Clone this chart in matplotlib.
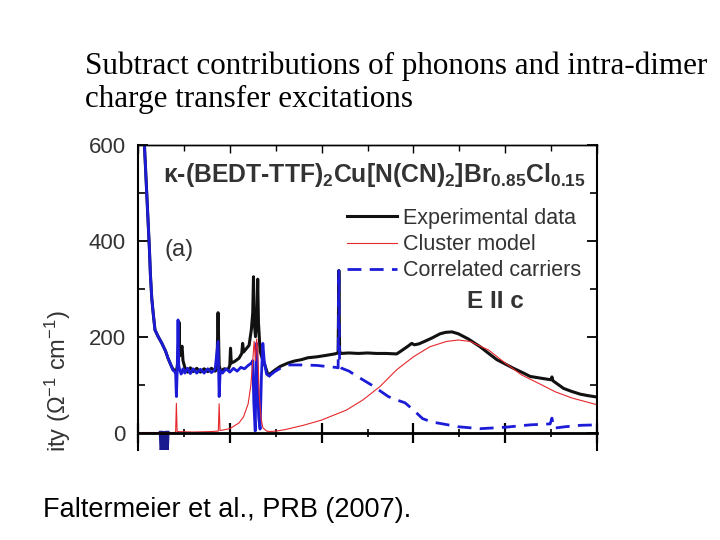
import numpy as np
import matplotlib
matplotlib.use("Agg")
import matplotlib.pyplot as plt
from matplotlib.ticker import MultipleLocator

plt.rcParams['font.family'] = ['Liberation Sans', 'DejaVu Sans']
plt.rcParams['mathtext.fontset'] = 'custom'
plt.rcParams['mathtext.rm'] = 'Liberation Sans'
plt.rcParams['mathtext.it'] = 'Liberation Sans:italic'
plt.rcParams['mathtext.bf'] = 'Liberation Sans:bold'

# experimental data (frequency in cm^-1, conductivity in 1/(Ohm cm))
exp_x = [40, 70, 90, 110, 125, 135, 150, 165, 185, 220, 258, 300, 327, 360, 381, 400,
         420, 436, 447, 455, 470, 480, 490, 510, 540, 570, 600, 640, 680, 720, 760, 800,
         840, 860, 872, 884, 900, 940, 980, 1000, 1008, 1016, 1050, 1100, 1130, 1140, 1150,
         1180, 1210, 1235, 1250, 1258, 1266, 1280, 1295, 1304, 1312, 1330, 1360, 1383, 1416,
         1450, 1489, 1550, 1634, 1700, 1779, 1850, 1950, 2050, 2143, 2180, 2188, 2196, 2210,
         2300, 2400, 2500, 2600, 2700, 2818, 2880, 2940, 2982, 3010, 3060, 3120, 3200, 3290,
         3350, 3420, 3490, 3600, 3727, 3800, 3909, 4000, 4090, 4200, 4272, 4400, 4500, 4509,
         4520, 4636, 4720, 4818, 4900, 5000]
exp_y = [900, 600, 520, 440, 380, 330, 280, 250, 214, 200, 187, 170, 155, 140, 132, 130,
         128, 150, 230, 160, 175, 180, 150, 136, 126, 135, 127, 134, 126, 133, 127, 134,
         128, 132, 250, 140, 128, 133, 131, 140, 176, 145, 148, 155, 165, 186, 168,
         175, 182, 215, 250, 325, 230, 200, 240, 320, 230, 170, 150, 140, 120,
         124, 130, 138, 145, 149, 152, 156, 158, 161, 164, 166, 338, 170, 165,
         166, 165, 166, 165, 165, 164, 172, 180, 186, 183, 185, 190, 197, 206,
         209, 210, 206, 195, 179, 168, 152, 143, 134, 124, 117, 113, 110, 116,
         108, 92, 86, 80, 77, 74]

# cluster model
clu_x = [0, 400, 410, 418, 426, 600, 800, 875, 884, 893, 1000, 1100, 1150, 1200, 1230,
         1250, 1265, 1280, 1292, 1305, 1320, 1340, 1360, 1400, 1440, 1509, 1600, 1800,
         2000, 2272, 2450, 2636, 2818, 3000, 3180, 3360, 3490, 3620, 3820, 4000, 4180,
         4360, 4545, 4727, 5000]
clu_y = [0, 0, 2, 61, 2, 1, 2, 3, 60, 4, 8, 20, 33, 60, 100,
         150, 190, 150, 195, 170, 80, 30, 10, 3, 2, 3, 6, 15,
         26, 47, 68, 96, 131, 158, 179, 190, 193, 190, 172, 145, 120,
         103, 85, 72, 58]

# correlated carriers
cor_x = [70, 90, 110, 125, 135, 150, 165, 185, 220, 258, 300, 327, 360, 381, 400, 410,
         418, 426, 436, 444, 455, 470, 490, 510, 540, 570, 600, 640, 680, 720, 760, 800,
         840, 872, 884, 896, 920, 960, 1000, 1040, 1080, 1120, 1160, 1200, 1235, 1250,
         1262, 1277, 1290, 1300, 1315, 1330, 1345, 1360, 1375, 1400, 1430, 1489, 1550,
         1634, 1779, 1950, 2090, 2150, 2180, 2188, 2196, 2220, 2300, 2363, 2450, 2545,
         2636, 2727, 2818, 2909, 3000, 3100, 3200, 3290, 3490, 3727, 4000, 4272, 4490,
         4509, 4530, 4650, 4818, 5000]
cor_y = [600, 520, 440, 380, 330, 280, 250, 214, 200, 187, 170, 155, 140, 130, 127, 122,
         75, 120, 235, 140, 130, 122, 133, 124, 134, 123, 133, 124, 132, 124, 133, 125,
         132, 190, 75, 130, 124, 133, 126, 134, 128, 136, 133, 140, 145, 150,
         60, 3, 186, 120, 30, 7, 120, 186, 150, 122, 118, 127, 134,
         141, 141, 140, 137, 136, 135, 338, 140, 134, 128, 120, 110, 99,
         87, 75, 68, 62, 47, 29, 22, 19, 12, 8, 11, 16, 18,
         30, 9, 12, 15, 16]

# dip below zero at low frequency
dip_x = [245, 255, 265, 275, 285, 295, 305, 315, 325]
dip_y = [0, -45, 0, -45, 0, -45, 0, -45, 0]

yticks = [0, 200, 400, 600]

fig = plt.figure(figsize=(7.2, 5.4), dpi=100)
ax = fig.add_axes([138 / 720, 1 - 450 / 540, 459 / 720, 305 / 540])

c_black = '#111111'
c_red = '#e5282c'
c_blue = '#1c1cd8'

ax.plot(exp_x, exp_y, color=c_black, lw=2.2, label='Experimental data')
cx = np.array(cor_x)
cy = np.array(cor_y)
split = cx <= 1430
ax.plot(cx[split], cy[split], color=c_blue, lw=2.0)
ax.plot(cx[cx >= 1430], cy[cx >= 1430], color=c_blue, lw=2.0, dashes=(5, 3))
ax.plot(dip_x, dip_y, color='#1a1a90', lw=2.5)
ax.plot(clu_x, clu_y, color=c_red, lw=0.8, label='Cluster model')
# legend entry for the dashed curve
ax.plot([], [], color=c_blue, lw=2.0, dashes=(5, 3), label='Correlated carriers')

ax.set_xlim(0, 5000)
ax.set_ylim(-36.5, 600)
ax.set_yticks(yticks)
ax.yaxis.set_minor_locator(MultipleLocator(100))
ax.xaxis.set_major_locator(MultipleLocator(1000))
ax.xaxis.set_minor_locator(MultipleLocator(500))

for s in ax.spines.values():
    s.set_linewidth(1.5)
ax.spines['bottom'].set_position(('data', 0))
ax.spines['bottom'].set_linewidth(2.0)
ax.spines['top'].set_linewidth(1.0)

ax.tick_params(axis='x', which='major', direction='inout', length=14, width=1.6,
               labelbottom=False, top=False)
ax.tick_params(axis='x', which='minor', direction='inout', length=6, width=1.2, top=False)
ax.tick_params(axis='y', which='major', direction='in', length=7, width=1.3,
               left=True, right=True, labelsize=16, labelcolor='#333333', pad=9)
ax.tick_params(axis='y', which='minor', direction='in', length=5, width=1.2,
               left=True, right=True)

top = ax.secondary_xaxis('top')
top.xaxis.set_major_locator(MultipleLocator(1000))
top.xaxis.set_minor_locator(MultipleLocator(500))
top.tick_params(which='major', direction='in', length=6, width=1.0, labeltop=False)
top.tick_params(which='minor', direction='in', length=4, width=1.0)
top.spines['top'].set_linewidth(1.0)

leg = ax.legend(loc='upper left', bbox_to_anchor=(347 / 720, 1 - 208 / 540),
                bbox_transform=fig.transFigure, frameon=False, fontsize=15.5,
                handlelength=2.3, handletextpad=0.28, labelspacing=0.24,
                borderpad=0, borderaxespad=0)
for t in leg.get_texts():
    t.set_color('#333333')

fig.text(163 / 720, 1 - 182 / 540,
         'κ-(BEDT-TTF)$_\\mathbf{2}$Cu[N(CN)$_\\mathbf{2}$]Br$_\\mathbf{0.85}$Cl$_\\mathbf{0.15}$',
         fontsize=17.8, fontweight='bold', color='#333333', va='baseline')
fig.text(165 / 720, 1 - 250 / 540, '(a)', fontsize=17, color='#333333', va='center')
fig.text(467 / 720, 1 - 302 / 540, 'E II c', fontsize=17.5, fontweight='bold',
         color='#333333', va='center')

fig.text(58 / 720, 1 - 452 / 540, r'ity ($\Omega^{-1}$ cm$^{-1}$)', rotation=90,
         fontsize=17, color='#333333', ha='center', va='bottom')

fig.text(85 / 720, 1 - 74 / 540, 'Subtract contributions of phonons and intra-dimer',
         family='Liberation Serif', fontsize=22.4, va='baseline')
fig.text(85 / 720, 1 - 106.7 / 540, 'charge transfer excitations',
         family='Liberation Serif', fontsize=22.4, va='baseline')

fig.text(43 / 720, 1 - 517 / 540, 'Faltermeier et al., PRB (2007).', fontsize=19.5,
         va='baseline')

fig.savefig('out.png', dpi=100)
